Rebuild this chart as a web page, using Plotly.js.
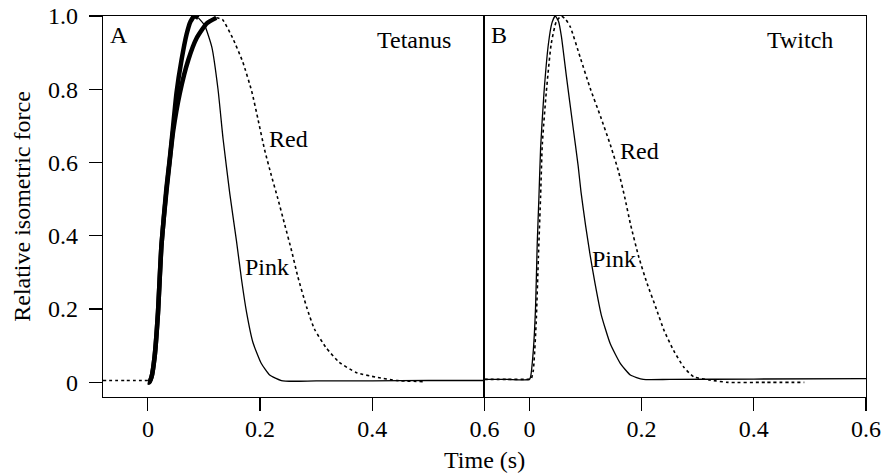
<!DOCTYPE html>
<html>
<head>
<meta charset="utf-8">
<script src="https://cdn.plot.ly/plotly-3.0.1.min.js"></script>
<style>html,body{margin:0;padding:0;background:#fff;}#chart{width:895px;height:475px;}</style>
</head>
<body>
<div id="chart"></div>
<script>
// ---- Panel A: Tetanus ----
var tetBaseT = [-0.08, -0.04, 0.0];
var tetBaseF = [0.005, 0.005, 0.005];

var tetPinkRiseT = [0.0, 0.002, 0.0065, 0.012, 0.018, 0.024, 0.033, 0.039, 0.045, 0.051, 0.060, 0.069, 0.076, 0.083, 0.090];
var tetPinkRiseF = [0.0, 0.0, 0.015, 0.07, 0.19, 0.37, 0.53, 0.61, 0.70, 0.79, 0.88, 0.95, 0.985, 1.0, 0.995];
var tetPinkDecayT = [0.090, 0.101, 0.114, 0.125, 0.134, 0.146, 0.158, 0.167, 0.176, 0.187, 0.202, 0.217, 0.238, 0.26, 0.30, 0.40, 0.50, 0.60];
var tetPinkDecayF = [0.995, 0.975, 0.915, 0.80, 0.665, 0.515, 0.385, 0.28, 0.19, 0.11, 0.052, 0.02, 0.005, 0.003, 0.004, 0.004, 0.005, 0.005];

var tetRedRiseT = [0.0, 0.002, 0.0065, 0.012, 0.018, 0.024, 0.033, 0.039, 0.045, 0.057, 0.072, 0.087, 0.105, 0.122];
var tetRedRiseF = [0.0, 0.0, 0.015, 0.07, 0.19, 0.37, 0.52, 0.605, 0.685, 0.79, 0.88, 0.94, 0.98, 0.995];
var tetRedDecayT = [0.122, 0.133, 0.151, 0.169, 0.185, 0.196, 0.208, 0.220, 0.231, 0.244, 0.256, 0.267, 0.283, 0.297, 0.318, 0.341, 0.371, 0.407, 0.443, 0.49];
var tetRedDecayF = [0.995, 0.99, 0.94, 0.875, 0.795, 0.72, 0.635, 0.565, 0.505, 0.43, 0.36, 0.29, 0.205, 0.145, 0.094, 0.055, 0.027, 0.014, 0.005, 0.002];

// ---- Panel B: Twitch ----
var twPinkT = [-0.08, -0.04, 0.0, 0.002, 0.007, 0.011, 0.014, 0.017, 0.020, 0.026, 0.034, 0.040, 0.046, 0.052, 0.057, 0.066, 0.078, 0.087, 0.092, 0.100, 0.108, 0.117, 0.128, 0.144, 0.162, 0.180, 0.203, 0.25, 0.40, 0.60];
var twPinkF = [0.008, 0.008, 0.008, 0.014, 0.087, 0.205, 0.38, 0.505, 0.64, 0.79, 0.925, 0.98, 1.0, 0.985, 0.945, 0.835, 0.695, 0.59, 0.52, 0.43, 0.35, 0.27, 0.185, 0.106, 0.052, 0.02, 0.008, 0.008, 0.009, 0.01];

var twRedT = [-0.08, -0.04, 0.0, 0.003, 0.007, 0.012, 0.016, 0.020, 0.023, 0.030, 0.039, 0.048, 0.057, 0.065, 0.073, 0.091, 0.109, 0.127, 0.145, 0.159, 0.170, 0.180, 0.195, 0.210, 0.225, 0.240, 0.257, 0.275, 0.293, 0.323, 0.354, 0.42, 0.49];
var twRedF = [0.008, 0.008, 0.008, 0.008, 0.033, 0.16, 0.34, 0.51, 0.65, 0.79, 0.925, 0.985, 1.0, 0.99, 0.97, 0.885, 0.80, 0.725, 0.645, 0.575, 0.505, 0.433, 0.342, 0.269, 0.206, 0.142, 0.087, 0.042, 0.015, 0.006, 0.0, 0.0, 0.0];

var yTickVals = [0, 0.2, 0.4, 0.6, 0.8, 1.0];
var yTickText = ['0', '0.2', '0.4', '0.6', '0.8', '1.0'];
var xTickVals = [0, 0.2, 0.4, 0.6];
var xTickText = ['0', '0.2', '0.4', '0.6'];

var FONT = '"Liberation Serif", "Times New Roman", serif';
var FS = 24;
var thin = {color: '#000', width: 1.3, shape: 'spline', smoothing: 0.5};
var thick = {color: '#000', width: 4.5, shape: 'spline', smoothing: 0.5};
var dot = {color: '#000', width: 1.6, dash: 'dot', shape: 'spline', smoothing: 0.5};

var traces = [
  {x: tetBaseT, y: tetBaseF, xaxis: 'x', yaxis: 'y', mode: 'lines', line: dot, name: 'Red baseline'},
  {x: tetRedDecayT, y: tetRedDecayF, xaxis: 'x', yaxis: 'y', mode: 'lines', line: dot, name: 'Red'},
  {x: tetPinkDecayT, y: tetPinkDecayF, xaxis: 'x', yaxis: 'y', mode: 'lines', line: thin, name: 'Pink'},
  {x: tetRedRiseT, y: tetRedRiseF, xaxis: 'x', yaxis: 'y', mode: 'lines', line: thick, name: 'Red rise'},
  {x: tetPinkRiseT, y: tetPinkRiseF, xaxis: 'x', yaxis: 'y', mode: 'lines', line: thick, name: 'Pink rise'},
  {x: twRedT, y: twRedF, xaxis: 'x2', yaxis: 'y2', mode: 'lines', line: dot, name: 'Red twitch'},
  {x: twPinkT, y: twPinkF, xaxis: 'x2', yaxis: 'y2', mode: 'lines', line: thin, name: 'Pink twitch'}
];

var tf = {family: FONT, size: FS, color: '#000'};
var axX = {
  range: [-0.08, 0.6], tickvals: xTickVals, ticktext: xTickText,
  ticks: 'outside', ticklen: 13, tickwidth: 1.2, tickcolor: '#000',
  showline: true, linecolor: '#000', linewidth: 1.2, mirror: true,
  showgrid: false, zeroline: false, fixedrange: true,
  tickfont: tf, ticklabelstandoff: -3
};
var layout = {
  width: 895, height: 475,
  margin: {l: 103, r: 29, t: 16, b: 78},
  paper_bgcolor: '#fff', plot_bgcolor: '#fff',
  showlegend: false,
  font: tf,
  xaxis: Object.assign({}, axX, {domain: [0, 0.5], anchor: 'y'}),
  xaxis2: Object.assign({}, axX, {domain: [0.5, 1], anchor: 'y2'}),
  yaxis: {
    range: [-0.04, 1.0], domain: [0, 1], anchor: 'x',
    tickvals: yTickVals, ticktext: yTickText,
    ticks: 'outside', ticklen: 13, tickwidth: 1.2, tickcolor: '#000',
    showline: true, linecolor: '#000', linewidth: 1.2, mirror: false,
    showgrid: false, zeroline: false, fixedrange: true,
    tickfont: tf, ticklabelstandoff: 6,
    title: {text: 'Relative isometric force', font: tf, standoff: 10}
  },
  yaxis2: {
    range: [-0.04, 1.0], domain: [0, 1], anchor: 'x2',
    showticklabels: false, ticks: '',
    showline: true, linecolor: '#000', linewidth: 1.2, mirror: true,
    showgrid: false, zeroline: false, fixedrange: true
  },
  annotations: [
    {xref: 'paper', yref: 'paper', x: 0.5, y: -0.166, yanchor: 'middle', xanchor: 'center', text: 'Time (s)', showarrow: false, font: tf},
    {xref: 'x', yref: 'y', x: -0.051, y: 0.947, text: 'A', showarrow: false, font: tf},
    {xref: 'x', yref: 'y', x: 0.475, y: 0.935, text: 'Tetanus', showarrow: false, font: tf},
    {xref: 'x', yref: 'y', x: 0.251, y: 0.665, text: 'Red', showarrow: false, font: tf},
    {xref: 'x', yref: 'y', x: 0.212, y: 0.315, text: 'Pink', showarrow: false, font: tf},
    {xref: 'x2', yref: 'y2', x: -0.055, y: 0.947, text: 'B', showarrow: false, font: tf},
    {xref: 'x2', yref: 'y2', x: 0.482, y: 0.935, text: 'Twitch', showarrow: false, font: tf},
    {xref: 'x2', yref: 'y2', x: 0.197, y: 0.632, text: 'Red', showarrow: false, font: tf},
    {xref: 'x2', yref: 'y2', x: 0.151, y: 0.338, text: 'Pink', showarrow: false, font: tf}
  ]
};

Plotly.newPlot('chart', traces, layout, {staticPlot: true, displayModeBar: false});
</script>
</body>
</html>
